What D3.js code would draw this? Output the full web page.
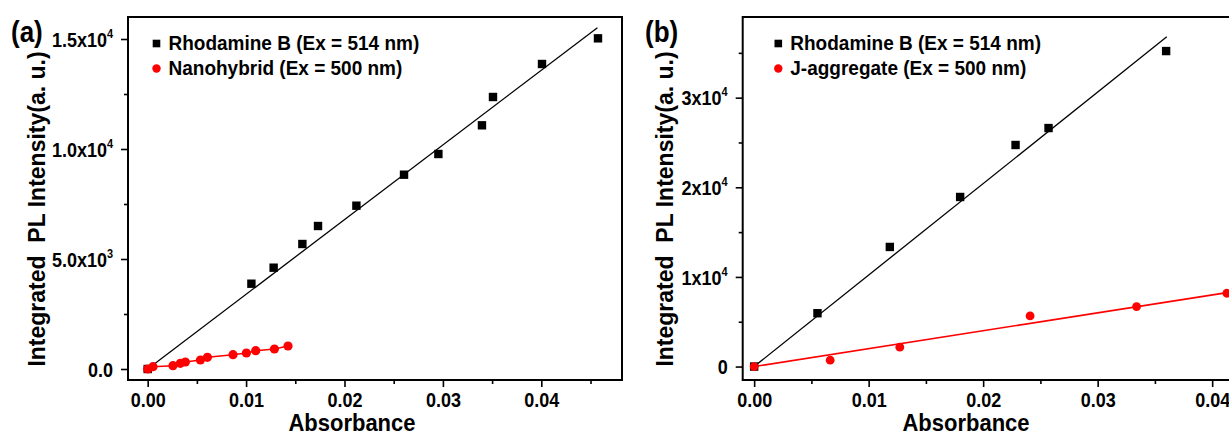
<!DOCTYPE html>
<html>
<head>
<meta charset="utf-8">
<script src="https://cdn.jsdelivr.net/npm/d3@7"></script>
<style>
  html, body { margin: 0; padding: 0; background: #fff; }
  svg { display: block; font-family: "Liberation Sans", Arial, sans-serif; font-weight: bold; }
</style>
</head>
<body>
<svg id="fig" width="1229" height="436"></svg>
<script>
// ---------- Panel (a): Rhodamine B vs. nanohybrid ----------
const rhodA_abs = [0, 0.01054, 0.0128, 0.01572, 0.01731, 0.02121, 0.02605, 0.02954, 0.03397, 0.03509, 0.04007, 0.04576];
const rhodA_int = [0, 3877, 4605, 5682, 6500, 7423, 8832, 9773, 11077, 12364, 13864, 15030];
const hybA_abs  = [0, 0.00054, 0.00257, 0.00332, 0.00383, 0.00536, 0.00607, 0.00867, 0.01003, 0.01098, 0.01288, 0.01426];
const hybA_int  = [0, 105, 150, 259, 318, 409, 532, 650, 727, 832, 909, 1045];
const fitA_abs  = [0, 0.0457];
const fitA_int  = [0, 15514];

// ---------- Panel (b): Rhodamine B vs. J-aggregate ----------
const rhodB_abs = [0, 0.00553, 0.01185, 0.01799, 0.02283, 0.02571, 0.03598];
const rhodB_int = [0, 5950, 13345, 18920, 24720, 26610, 35200];
const jaggB_abs = [0, 0.00664, 0.01272, 0.0241, 0.0334, 0.04128];
const jaggB_int = [0, 713, 2160, 5650, 6690, 8180];
const fitBk_abs = [0, 0.03604];
const fitBk_int = [0, 36790];
const fitBr_abs = [0, 0.0413];
const fitBr_int = [0, 8250];

// ---------- Tick values and labels ----------
const xTicks      = [0, 0.01, 0.02, 0.03, 0.04];
const xTickLabels = ["0.00", "0.01", "0.02", "0.03", "0.04"];
const xMinorA     = [0.005, 0.015, 0.025, 0.035, 0.045];
const xMinorB     = [0.005, 0.015, 0.025, 0.035];

const yTicksA     = [0, 5000, 10000, 15000];
const yMantA      = ["0.0", "5.0x10", "1.0x10", "1.5x10"];
const yExpA       = ["", "3", "4", "4"];
const yMinorA     = [2500, 7500, 12500];

const yTicksB     = [0, 10000, 20000, 30000];
const yMantB      = ["0", "1x10", "2x10", "3x10"];
const yExpB       = ["", "4", "4", "4"];
const yMinorB     = [5000, 15000, 25000, 35000];

const legendA = ["Rhodamine B (Ex = 514 nm)", "Nanohybrid (Ex = 500 nm)"];
const legendB = ["Rhodamine B (Ex = 514 nm)", "J-aggregate (Ex = 500 nm)"];
const yTitle  = "Integrated  PL Intensity(a. u.)";
const xTitle  = "Absorbance";

const RED = "#ff0000";
const svg = d3.select("#fig");

const zip = (a, b) => a.map((v, i) => [v, b[i]]);

// stretch a text element vertically about its own anchor point
function tall(sel, x, y, k) {
  sel.attr("transform", `translate(${x},${y}) scale(1,${k}) translate(${-x},${-y})`);
}

function styleAxis(sel) {
  sel.attr("font-family", null).attr("font-size", null);
  sel.select(".domain").remove();
  sel.selectAll(".tick line").attr("stroke", "#000").attr("stroke-width", 1.6);
  sel.selectAll(".tick text").attr("fill", "#000");
}

function drawPanel(cfg) {
  const g = svg.append("g");
  const x = d3.scaleLinear().domain(cfg.xDomain).range([cfg.left, cfg.right]);
  const y = d3.scaleLinear().domain(cfg.yDomain).range([cfg.bottom, cfg.top]);

  // minor ticks
  g.append("g").attr("transform", `translate(0,${cfg.bottom})`)
    .call(d3.axisBottom(x).tickValues(cfg.xMinor).tickSize(4).tickFormat(""))
    .call(styleAxis);
  g.append("g").attr("transform", `translate(${cfg.left},0)`)
    .call(d3.axisLeft(y).tickValues(cfg.yMinor).tickSize(4).tickFormat(""))
    .call(styleAxis);

  // major x ticks
  const xa = g.append("g").attr("transform", `translate(0,${cfg.bottom})`)
    .call(d3.axisBottom(x).tickValues(xTicks).tickSize(7).tickFormat((d, i) => xTickLabels[i]))
    .call(styleAxis);
  xa.selectAll(".tick text").attr("y", 27).attr("dy", null).attr("font-size", 18)
    .each(function () { tall(d3.select(this), 0, 27, 1.1); });

  // major y ticks with superscript exponents
  const ya = g.append("g").attr("transform", `translate(${cfg.left},0)`)
    .call(d3.axisLeft(y).tickValues(cfg.yTicks).tickSize(7).tickFormat(""))
    .call(styleAxis);
  ya.selectAll(".tick text").each(function (d, i) {
    const t = d3.select(this).attr("x", -15).attr("dy", "0.36em").attr("font-size", 18).text(null);
    t.append("tspan").text(cfg.yMant[i]);
    if (cfg.yExp[i]) t.append("tspan").attr("font-size", 11).attr("dy", -8).text(cfg.yExp[i]);
    tall(t, -15, 0, 1.1);
  });

  // frame
  g.append("rect")
    .attr("x", cfg.left).attr("y", cfg.top)
    .attr("width", cfg.right - cfg.left).attr("height", cfg.bottom - cfg.top)
    .attr("fill", "none").attr("stroke", "#000").attr("stroke-width", 2);

  const line = d3.line().x(d => x(d[0])).y(d => y(d[1]));

  // lines
  cfg.lines.forEach(l => {
    g.append("path").datum(l.pts).attr("d", line)
      .attr("fill", "none").attr("stroke", l.color).attr("stroke-width", l.width);
  });

  // black squares
  g.append("g").selectAll("rect").data(cfg.squares).join("rect")
    .attr("x", d => x(d[0]) - 4.2).attr("y", d => y(d[1]) - 4.2)
    .attr("width", 8.4).attr("height", 8.4).attr("fill", "#000");

  // red circles
  g.append("g").selectAll("circle").data(cfg.circles).join("circle")
    .attr("cx", d => x(d[0])).attr("cy", d => y(d[1])).attr("r", cfg.dotR).attr("fill", RED);

  // legend
  const lg = g.append("g").attr("font-size", 19);
  lg.append("rect").attr("x", cfg.legX - 3.8).attr("y", 43.5 - 3.8).attr("width", 7.6).attr("height", 7.6).attr("fill", "#000");
  lg.append("text").attr("x", cfg.legX + 12).attr("y", 50.5).text(cfg.legend[0])
    .call(tall, cfg.legX + 12, 50.5, 1.1);
  lg.append("circle").attr("cx", cfg.legX).attr("cy", 68.5).attr("r", 4.2).attr("fill", RED);
  lg.append("text").attr("x", cfg.legX + 12).attr("y", 75).text(cfg.legend[1])
    .call(tall, cfg.legX + 12, 75, 1.1);

  // axis titles
  g.append("text").attr("x", cfg.xTitleX).attr("y", 431).attr("text-anchor", "middle")
    .attr("font-size", 22).text(xTitle).call(tall, cfg.xTitleX, 431, 1.08);
  g.append("text").attr("transform", `translate(${cfg.yTitleX},209) rotate(-90)`)
    .attr("text-anchor", "middle").attr("font-size", 23).style("white-space", "pre").text(yTitle);

  // panel letter
  g.append("text").attr("x", cfg.tagX).attr("y", 42).attr("font-size", 26).text(cfg.tag)
    .call(tall, cfg.tagX, 42, 1.1);
}

drawPanel({
  tag: "(a)", tagX: 11,
  left: 128, right: 622, top: 17, bottom: 380,
  xDomain: [-0.002, 0.0482], yDomain: [-500, 16000],
  xMinor: xMinorA, yTicks: yTicksA, yMant: yMantA, yExp: yExpA, yMinor: yMinorA,
  lines: [
    { pts: zip(fitA_abs, fitA_int), color: "#000", width: 1.3 },
    { pts: zip(hybA_abs, hybA_int), color: RED, width: 1.6 }
  ],
  squares: zip(rhodA_abs, rhodA_int),
  circles: zip(hybA_abs, hybA_int),
  dotR: 4.6,
  legX: 156.5, legend: legendA,
  xTitleX: 352, yTitleX: 45
});

drawPanel({
  tag: "(b)", tagX: 645,
  left: 742.7, right: 1246.5, top: 17, bottom: 380,
  xDomain: [-0.001, 0.043], yDomain: [-1500, 39000],
  xMinor: xMinorB, yTicks: yTicksB, yMant: yMantB, yExp: yExpB, yMinor: yMinorB,
  lines: [
    { pts: zip(fitBk_abs, fitBk_int), color: "#000", width: 1.3 },
    { pts: zip(fitBr_abs, fitBr_int), color: RED, width: 1.6 }
  ],
  squares: zip(rhodB_abs, rhodB_int),
  circles: zip(jaggB_abs, jaggB_int),
  dotR: 4.4,
  legX: 778.3, legend: legendB,
  xTitleX: 966, yTitleX: 673
});
</script>
</body>
</html>
